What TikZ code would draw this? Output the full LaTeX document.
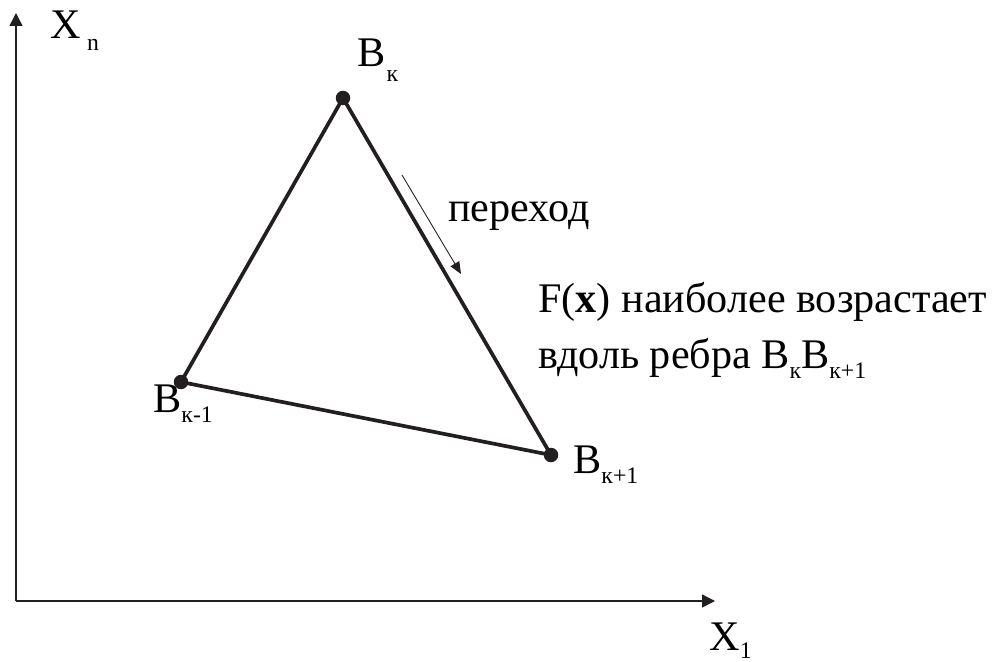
\documentclass[tikz,border=0pt]{standalone}
\usepackage{fontspec}
\setmainfont{Liberation Serif}
\usetikzlibrary{arrows.meta,positioning}
\definecolor{InkDark}{HTML}{231F20}
\newcommand{\lowsub}[2][0.3em]{\raisebox{-#1}{\fontsize{13.5}{15}\selectfont #2}}
\tikzset{
  axisline/.style={line width=0.8pt, draw=InkDark, -{Triangle[length=2.6mm,width=2.6mm]}},
  edgeline/.style={line width=2.1pt, draw=InkDark, line cap=round},
  vertex/.style={circle, fill=InkDark, minimum size=2.9mm, inner sep=0pt},
  movearrow/.style={line width=0.5pt, draw=InkDark, -{Triangle[length=2.4mm,width=2mm]}},
  lbl/.style={font=\fontsize{24}{28}\selectfont, inner sep=0pt, anchor=base west},
}

\begin{document}
\begin{tikzpicture}[x=0.02cm, y=-0.02cm]
\path[fill=white, use as bounding box] (0,0) rectangle (994,662);

% axes
\coordinate (O) at (16,601);
\coordinate (xend) at (715,601);
\coordinate (yend) at (16,13);
\draw[axisline] (O) -- (xend);
\draw[axisline] (O) -- (yend);
\node[lbl] (xn) at (50,39) {X\kern0.15em\lowsub[0.27em]{n}};
\node[lbl] (x1) at (709,650) {X\lowsub[0.2em]{1}};

% vertices
\node[vertex] (Bk) at (343,98) {};
\node[vertex] (Bkm) at (181,382) {};
\node[vertex] (Bkp) at (551,455) {};
\draw[edgeline] (Bk.center) -- (Bkp.center) -- (Bkm.center) -- (Bk.center);
\node[lbl] (Bklbl) at (357,67) {B\kern0.03em\lowsub[0.35em]{к}};
\node[lbl] (Bkmlbl) at (153,412) {B\lowsub[0.25em]{к-1}};
\node[lbl] (Bkplbl) at (573,473) {B\lowsub[0.25em]{к+1}};

% step along the edge
\coordinate (mvstart) at (402,175);
\coordinate (mvend) at (461,274);
\draw[movearrow] (mvstart) -- (mvend);
\node[lbl] (step) at (448,222) {переход};

\node[lbl] (note1) at (538,313) {F(\textbf{x}) наиболее возрастает};
\node[lbl] (note2) at (538,368) {вдоль ребра B\lowsub[0.25em]{к}B\lowsub[0.25em]{к+1}};
\end{tikzpicture}
\end{document}
